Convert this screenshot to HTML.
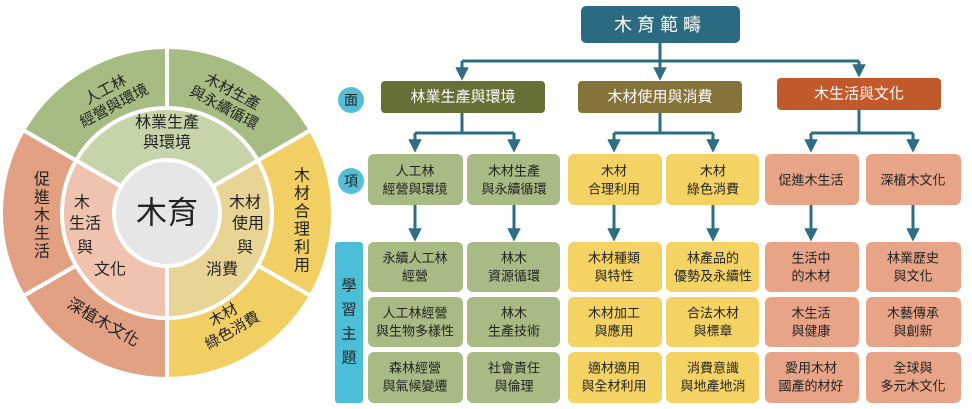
<!DOCTYPE html>
<html><head><meta charset="utf-8"><style>
html,body{margin:0;padding:0;background:#fff}
svg{display:block}
text{font-family:"Liberation Sans","Noto Sans CJK TC",sans-serif;text-anchor:middle;dominant-baseline:central}
</style></head><body>
<svg width="972" height="409" viewBox="0 0 972 409" xmlns="http://www.w3.org/2000/svg">
<defs>
<marker id="ar" viewBox="0 0 10 10" refX="8" refY="5" markerWidth="4.5" markerHeight="4.5" orient="auto"><path d="M0,0L10,5L0,10z" fill="#2e6e85"/></marker>
</defs>
<g transform="translate(167,213)">
<g stroke="#fff" stroke-width="4">
<path d="M0,0 L0,-166 A166,166 0 0 1 143.8,-83 Z" fill="#a7bc82"/>
<path d="M0,0 L143.8,-83 A166,166 0 0 1 143.8,83 Z" fill="#f2cf62"/>
<path d="M0,0 L143.8,83 A166,166 0 0 1 0,166 Z" fill="#f2cf62"/>
<path d="M0,0 L0,166 A166,166 0 0 1 -143.8,83 Z" fill="#e2a182"/>
<path d="M0,0 L-143.8,83 A166,166 0 0 1 -143.8,-83 Z" fill="#e2a182"/>
<path d="M0,0 L-143.8,-83 A166,166 0 0 1 0,-166 Z" fill="#a7bc82"/>
<path d="M0,0 L-90.9,-52.5 A105,105 0 0 1 90.9,-52.5 Z" fill="#c6d5a9"/>
<path d="M0,0 L90.9,-52.5 A105,105 0 0 1 0,105 Z" fill="#e8d495"/>
<path d="M0,0 L0,105 A105,105 0 0 1 -90.9,-52.5 Z" fill="#efc3ae"/>
</g>
<circle r="53" fill="#e6e6e6" stroke="#fff" stroke-width="4"/>
</g>
<g fill="#222" font-size="15">
<g transform="rotate(-28 110 98)"><text x="110" y="89">人工林</text><text x="110" y="107">經營與環境</text></g>
<g transform="rotate(28 228 100)"><text x="228" y="91">木材生產</text><text x="228" y="109">與永續循環</text></g>
<text x="167" y="123" font-size="16">林業生產</text><text x="167" y="143" font-size="16">與環境</text>
<text x="167" y="213" font-size="31">木育</text>
<g font-size="16"><text x="42" y="180">促</text><text x="42" y="198">進</text><text x="42" y="216">木</text><text x="42" y="234">生</text><text x="42" y="252">活</text></g>
<g font-size="16"><text x="302" y="176">木</text><text x="302" y="194">材</text><text x="302" y="212">合</text><text x="302" y="230">理</text><text x="302" y="248">利</text><text x="302" y="266">用</text></g>
<g transform="rotate(30 103 323)"><text x="103" y="323" font-size="16">深植木文化</text></g>
<g transform="rotate(-30 228 323)"><text x="228" y="314">木材</text><text x="228" y="332">綠色消費</text></g>
<g font-size="16"><text x="82" y="203">木</text><text x="85" y="224">生活</text><text x="85" y="248">與</text><text x="110" y="270">文化</text>
<text x="245" y="203">木材</text><text x="248" y="224">使用</text><text x="245" y="248">與</text><text x="222" y="270">消費</text></g>
</g>
<g stroke="#2e6e85" stroke-width="3" fill="none">
<path d="M660,43V61"/><path d="M462,61H859"/>
<path d="M462,61V78" marker-end="url(#ar)"/><path d="M660,61V78" marker-end="url(#ar)"/><path d="M859,61V75" marker-end="url(#ar)"/>
<path d="M462,113V133M415,133H514"/><path d="M415,133V150" marker-end="url(#ar)"/><path d="M514,133V150" marker-end="url(#ar)"/>
<path d="M660,113V133M614,133H713"/><path d="M614,133V150" marker-end="url(#ar)"/><path d="M713,133V150" marker-end="url(#ar)"/>
<path d="M859,110V133M811,133H913"/><path d="M811,133V150" marker-end="url(#ar)"/><path d="M913,133V150" marker-end="url(#ar)"/>
<path d="M415,205V239" marker-end="url(#ar)"/><path d="M514,205V239" marker-end="url(#ar)"/>
<path d="M614,205V239" marker-end="url(#ar)"/><path d="M713,205V239" marker-end="url(#ar)"/>
<path d="M811,205V239" marker-end="url(#ar)"/><path d="M913,205V239" marker-end="url(#ar)"/>
</g>
<rect x="581" y="6" width="159" height="37" rx="5" fill="#2b6a80"/>
<text x="660" y="25" fill="#fff" font-size="18" letter-spacing="5">木育範疇</text>
<rect x="381" y="81" width="164" height="32" rx="4" fill="#676f37"/>
<text x="463" y="97" fill="#fff" font-size="15">林業生產與環境</text>
<rect x="578" y="81" width="164" height="32" rx="4" fill="#85733a"/>
<text x="660" y="97" fill="#fff" font-size="15">木材使用與消費</text>
<rect x="777" y="78" width="164" height="32" rx="4" fill="#c1592b"/>
<text x="859" y="94" fill="#fff" font-size="15">木生活與文化</text>
<circle cx="351" cy="100" r="13" fill="#56bfd8"/><text x="351" y="100" font-size="14" fill="#222">面</text>
<circle cx="351" cy="181" r="13" fill="#56bfd8"/><text x="351" y="181" font-size="14" fill="#222">項</text>
<rect x="335" y="242" width="28" height="161" rx="3" fill="#4cbfd8"/>
<g font-size="15" fill="#222"><text x="349" y="286">學</text><text x="349" y="310">習</text><text x="349" y="334">主</text><text x="349" y="358">題</text></g>
<g font-size="13" fill="#222">
<rect x="368" y="154" width="95" height="51" rx="6" fill="#a9bb85"/><text x="415" y="171">人工林</text><text x="415" y="189">經營與環境</text>
<rect x="467" y="154" width="93" height="51" rx="6" fill="#a9bb85"/><text x="514" y="171">木材生產</text><text x="514" y="189">與永續循環</text>
<rect x="568" y="154" width="94" height="51" rx="6" fill="#f4d364"/><text x="614" y="171">木材</text><text x="614" y="189">合理利用</text>
<rect x="666" y="154" width="93" height="51" rx="6" fill="#f4d364"/><text x="713" y="171">木材</text><text x="713" y="189">綠色消費</text>
<rect x="765" y="154" width="94" height="51" rx="6" fill="#e8a487"/><text x="811" y="180">促進木生活</text>
<rect x="866" y="154" width="95" height="51" rx="6" fill="#e8a487"/><text x="913" y="180">深植木文化</text>
<rect x="368" y="242" width="95" height="50" rx="6" fill="#a9bb85"/><text x="415" y="258">永續人工林</text><text x="415" y="276">經營</text>
<rect x="467" y="242" width="93" height="50" rx="6" fill="#a9bb85"/><text x="514" y="258">林木</text><text x="514" y="276">資源循環</text>
<rect x="568" y="242" width="94" height="50" rx="6" fill="#f4d364"/><text x="614" y="258">木材種類</text><text x="614" y="276">與特性</text>
<rect x="666" y="242" width="93" height="50" rx="6" fill="#f4d364"/><text x="713" y="258">林產品的</text><text x="713" y="276">優勢及永續性</text>
<rect x="765" y="242" width="94" height="50" rx="6" fill="#e8a487"/><text x="811" y="258">生活中</text><text x="811" y="276">的木材</text>
<rect x="866" y="242" width="95" height="50" rx="6" fill="#e8a487"/><text x="913" y="258">林業歷史</text><text x="913" y="276">與文化</text>
<rect x="368" y="297" width="95" height="50" rx="6" fill="#a9bb85"/><text x="415" y="313">人工林經營</text><text x="415" y="331">與生物多樣性</text>
<rect x="467" y="297" width="93" height="50" rx="6" fill="#a9bb85"/><text x="514" y="313">林木</text><text x="514" y="331">生產技術</text>
<rect x="568" y="297" width="94" height="50" rx="6" fill="#f4d364"/><text x="614" y="313">木材加工</text><text x="614" y="331">與應用</text>
<rect x="666" y="297" width="93" height="50" rx="6" fill="#f4d364"/><text x="713" y="313">合法木材</text><text x="713" y="331">與標章</text>
<rect x="765" y="297" width="94" height="50" rx="6" fill="#e8a487"/><text x="811" y="313">木生活</text><text x="811" y="331">與健康</text>
<rect x="866" y="297" width="95" height="50" rx="6" fill="#e8a487"/><text x="913" y="313">木藝傳承</text><text x="913" y="331">與創新</text>
<rect x="368" y="352" width="95" height="51" rx="6" fill="#a9bb85"/><text x="415" y="368">森林經營</text><text x="415" y="386">與氣候變遷</text>
<rect x="467" y="352" width="93" height="51" rx="6" fill="#a9bb85"/><text x="514" y="368">社會責任</text><text x="514" y="386">與倫理</text>
<rect x="568" y="352" width="94" height="51" rx="6" fill="#f4d364"/><text x="614" y="368">適材適用</text><text x="614" y="386">與全材利用</text>
<rect x="666" y="352" width="93" height="51" rx="6" fill="#f4d364"/><text x="713" y="368">消費意識</text><text x="713" y="386">與地產地消</text>
<rect x="765" y="352" width="94" height="51" rx="6" fill="#e8a487"/><text x="811" y="368">愛用木材</text><text x="811" y="386">國產的材好</text>
<rect x="866" y="352" width="95" height="51" rx="6" fill="#e8a487"/><text x="913" y="368">全球與</text><text x="913" y="386">多元木文化</text>
</g>
</svg>
</body></html>
